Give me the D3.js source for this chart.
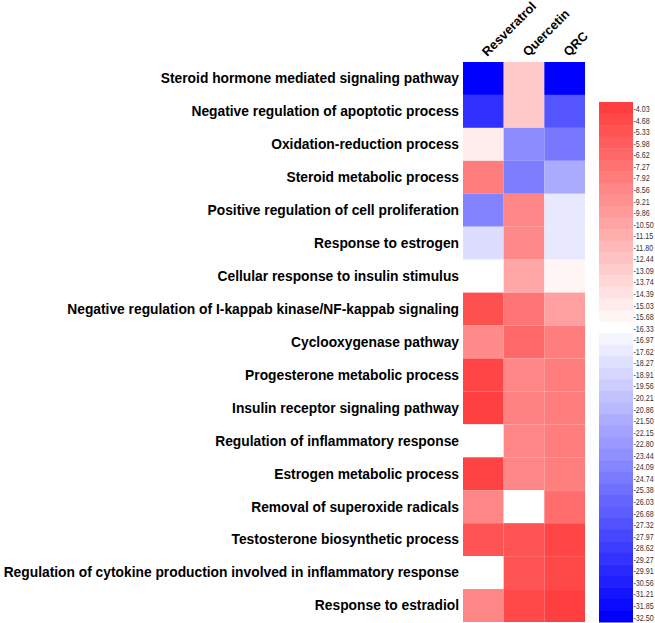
<!DOCTYPE html>
<html>
<head>
<meta charset="utf-8">
<script src="https://cdn.jsdelivr.net/npm/d3@7"></script>
<style>
  html, body { margin: 0; padding: 0; background: #fff; }
  svg { display: block; }
</style>
</head>
<body>
<svg id="chart" width="655" height="623"></svg>
<script>
const samples = ["Resveratrol", "Quercetin", "QRC"];
const pathways = [
  "Steroid hormone mediated signaling pathway",
  "Negative regulation of apoptotic process",
  "Oxidation-reduction process",
  "Steroid metabolic process",
  "Positive regulation of cell proliferation",
  "Response to estrogen",
  "Cellular response to insulin stimulus",
  "Negative regulation of I-kappab kinase/NF-kappab signaling",
  "Cyclooxygenase pathway",
  "Progesterone metabolic process",
  "Insulin receptor signaling pathway",
  "Regulation of inflammatory response",
  "Estrogen metabolic process",
  "Removal of superoxide radicals",
  "Testosterone biosynthetic process",
  "Regulation of cytokine production involved in inflammatory response",
  "Response to estradiol"
];
// values per pathway: [Resveratrol, Quercetin, QRC]; null = no value (white)
const resveratrol = [-32.5, -29.4, -15.1, -8.0, -24.2, -18.5, null, -5.1, -8.9, -4.4, -4.1, null, -4.3, -8.6, -5.4, null, -8.6];
const quercetin   = [-12.9, -12.9, -23.6, -24.6, -8.6, -8.8, -10.7, -7.5, -6.7, -8.6, -8.3, -8.6, -8.6, null, -5.4, -5.4, -4.7];
const qrc         = [-32.5, -27.1, -24.9, -21.7, -17.8, -17.8, -15.7, -10.2, -8.0, -8.0, -8.0, -8.0, -8.1, -7.0, -4.4, -4.7, -4.03];
const legendTicks = ["-4.03","-4.68","-5.33","-5.98","-6.62","-7.27","-7.92","-8.56","-9.21","-9.86","-10.50","-11.15","-11.80","-12.44","-13.09","-13.74","-14.39","-15.03","-15.68","-16.33","-16.97","-17.62","-18.27","-18.91","-19.56","-20.21","-20.86","-21.50","-22.15","-22.80","-23.44","-24.09","-24.74","-25.38","-26.03","-26.68","-27.32","-27.97","-28.62","-29.27","-29.91","-30.56","-31.21","-31.85","-32.50"];

const seriesBySample = { "Resveratrol": resveratrol, "Quercetin": quercetin, "QRC": qrc };

const cells = [];
pathways.forEach((p, i) => {
  samples.forEach(s => cells.push({ pathway: p, sample: s, value: seriesBySample[s][i] }));
});

const svg = d3.select("#chart");
const x = d3.scaleBand().domain(samples).range([463, 585]);
const y = d3.scaleBand().domain(pathways).range([62, 622]);
const color = d3.scaleLinear()
  .domain([-32.5, -16.33, -4.03])
  .range(["#0000ff", "#ffffff", "#ff3f3f"])
  .clamp(true);

// heatmap cells
svg.append("g").selectAll("rect").data(cells).join("rect")
  .attr("x", d => x(d.sample))
  .attr("y", d => y(d.pathway))
  .attr("width", x.bandwidth())
  .attr("height", y.bandwidth())
  .attr("fill", d => d.value == null ? "#ffffff" : color(d.value));

// row labels
svg.append("g").selectAll("text").data(pathways).join("text")
  .attr("x", 459)
  .attr("y", d => y(d) + y.bandwidth() / 2)
  .attr("dy", "0.35em")
  .attr("text-anchor", "end")
  .style("font-family", "'Liberation Sans', Arial, sans-serif")
  .style("font-weight", "bold")
  .style("font-size", "13.8px")
  .attr("fill", "#000")
  .text(d => d);

// column labels
svg.append("g").selectAll("text").data(samples).join("text")
  .attr("transform", d => `translate(${x(d) + x.bandwidth() / 2 + 4},57) rotate(-45)`)
  .attr("text-anchor", "start")
  .style("font-family", "'Liberation Sans', Arial, sans-serif")
  .style("font-weight", "bold")
  .style("font-size", "12.8px")
  .attr("fill", "#000")
  .text(d => d);

// legend
const ly = d3.scaleBand().domain(legendTicks).range([102, 622]);
const lg = svg.append("g");
lg.selectAll("rect").data(legendTicks).join("rect")
  .attr("x", 599)
  .attr("y", d => ly(d))
  .attr("width", 34)
  .attr("height", ly.bandwidth() + 0.5)
  .attr("fill", d => color(+d));
lg.selectAll("text").data(legendTicks).join("text")
  .attr("transform", d => `translate(633.5,${ly(d) + ly.bandwidth() / 2 + 1}) scale(0.75,1)`)
  .attr("dy", "0.35em")
  .style("font-family", "'Liberation Sans', Arial, sans-serif")
  .style("font-size", "9.5px")
  .attr("fill", "#333")
  .text(d => d);
</script>
</body>
</html>
